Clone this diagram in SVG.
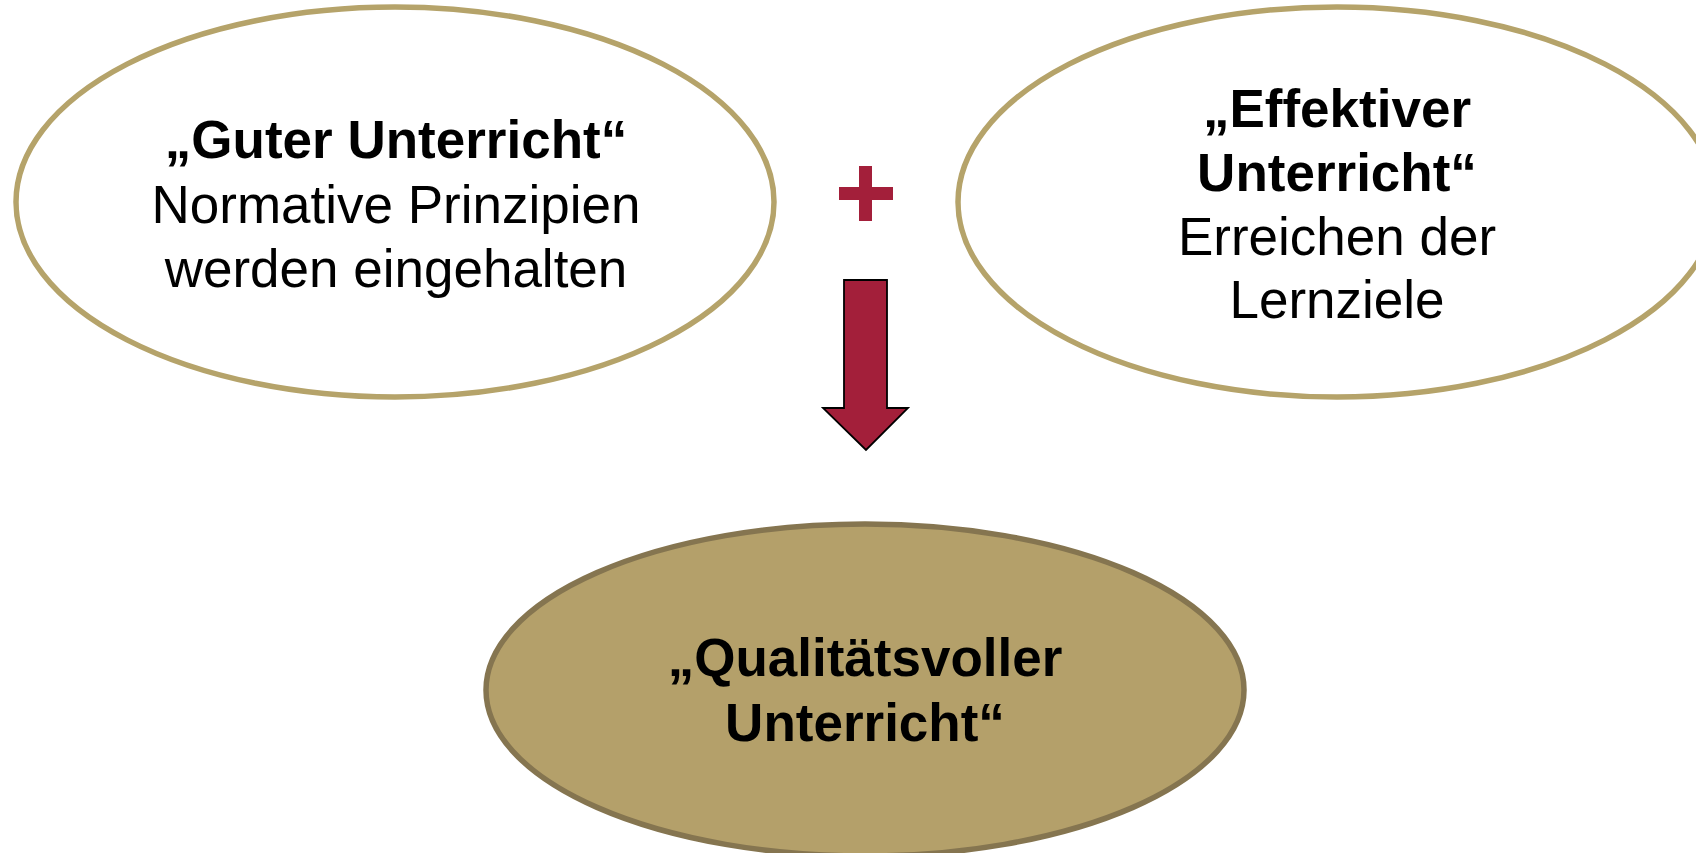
<svg xmlns="http://www.w3.org/2000/svg" width="1696" height="853" viewBox="0 0 1696 853">
<style>
.t{font-family:"Liberation Sans",Arial,sans-serif;font-size:53px;fill:#000;text-anchor:middle}
.b{font-weight:bold}
.top{fill:#fff;stroke:#B5A36A;stroke-width:5.5}
.bot{fill:#B4A06A;stroke:#857550;stroke-width:5.5}
.red{fill:#A31F3A}
</style>
<rect width="1696" height="853" fill="#fff"/>
<g id="connectors">
<path class="red" d="M844,280 H887 V408 H908 L866,450 L823,408 H844 Z" stroke="#000" stroke-width="1.8" stroke-linejoin="miter"/>
</g>
<g id="plus">
<rect class="red" x="859" y="166" width="13" height="55"/>
<rect class="red" x="839" y="187" width="54" height="13"/>
</g>
<g id="guter">
<ellipse class="top" cx="395" cy="202" rx="379" ry="195"/>
<text class="t b" x="396" y="158">„Guter Unterricht“</text>
<text class="t" x="396" y="223">Normative Prinzipien</text>
<text class="t" x="396" y="287">werden eingehalten</text>
</g>
<g id="effektiver">
<ellipse class="top" cx="1337" cy="202" rx="379" ry="195"/>
<text class="t b" x="1337" y="127">„Effektiver</text>
<text class="t b" x="1337" y="191">Unterricht“</text>
<text class="t" x="1337" y="255">Erreichen der</text>
<text class="t" x="1337" y="318">Lernziele</text>
</g>
<g id="qualitaet">
<ellipse class="bot" cx="865" cy="690" rx="379" ry="166"/>
<text class="t b" x="865" y="676">„Qualitätsvoller</text>
<text class="t b" x="865" y="741">Unterricht“</text>
</g>
</svg>
